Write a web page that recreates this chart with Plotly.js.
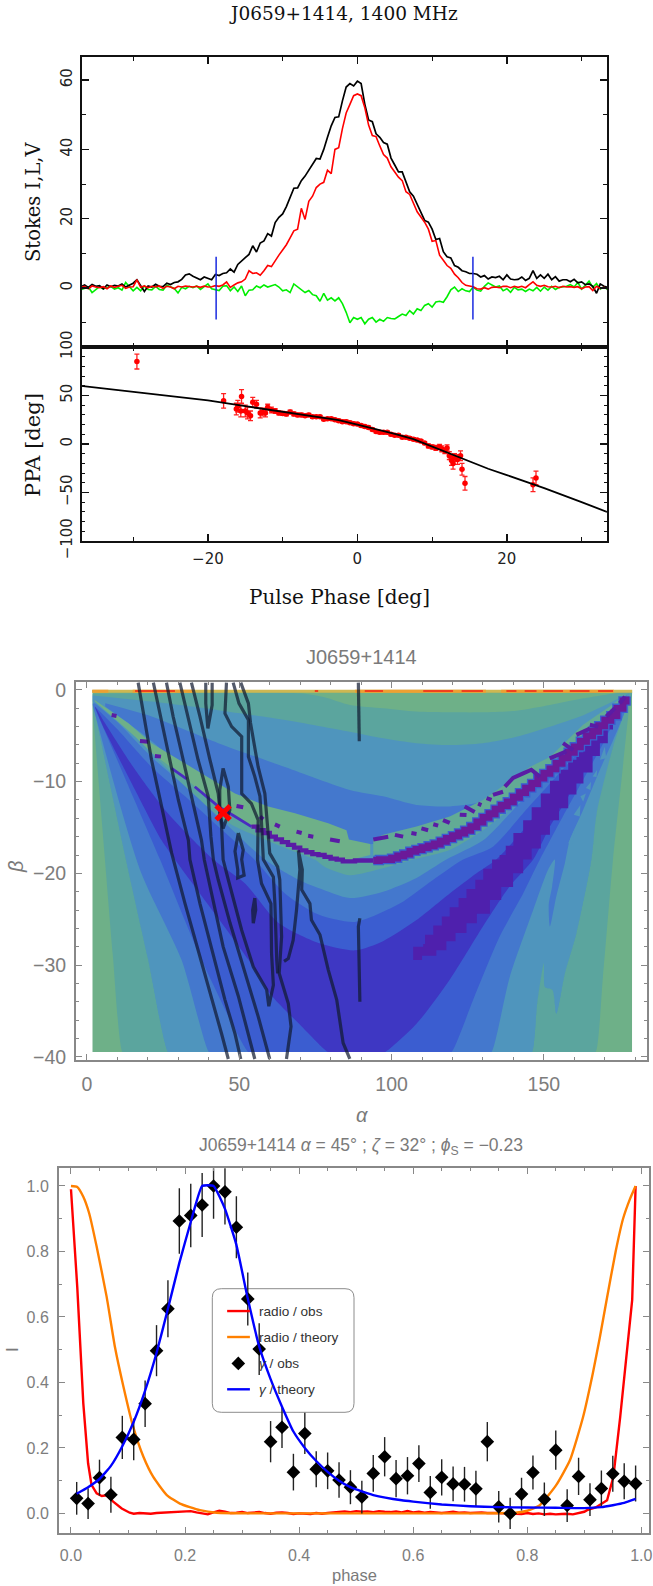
<!DOCTYPE html>
<html>
<head>
<meta charset="utf-8">
<script src="https://cdn.plot.ly/plotly-3.0.1.min.js"></script>
<style>html,body{margin:0;padding:0;background:#fff}#chart{width:653px;height:1586px}</style>
</head>
<body>
<div id="chart"></div>
<script>
// ---------- Panel 1: Stokes profiles (0.5 deg bins from -37 deg) ----------
const stokesI = [.4,.9,.2,1,.5,.7,-.2,.9,.4,.8, .6,1.2,.3,.9,1.4,2.4,.7,-1,.6,.3,
 1.1,.5,.4,1.4,1,1.6,1.8,2.5,3.8,4.1, 3.4,3,2.4,3.2,2.8,2.4,3.9,3.6,4.2,4.4,
 5.5,4.6,6.8,7.9,8.8,9.7,12.2,10.4,13,13.6, 15.7,15,18.9,20.4,21.4,23.5,26,28.8,28.9,31,
 32.3,34,35.5,37.4,37.2,40,43.5,46.8,49.2,49.4, 54,58,59,58.3,59.7,59,53,48.5,48,44.5,
 43.5,42,41.5,37.5,35.5,33.5,33.5,30.5,27.8,26.5, 24,22,19.5,19,17,14,14.3,10.5,9,8.7,
 6.5,6,5,4.7,4.2,4.2,4,3.2,3.6,2.6, 3.2,3,3.4,2.4,3.8,2.6,2.4,2.5,3.2,2.2,
 2.8,5,2.8,3.8,2.8,4,2.4,3.3,2,2.4, 2.4,1.8,2.5,1.5,1.8,1,1.2,.5,-1.5,1.2,.5,.2];
const stokesL = [.2,.5,-.2,.6,.3,.1,.4,-.2,.6,.2, .5,.8,-.1,.3,.4,2.4,.2,.6,.1,.5,
 .3,.6,-.1,.5,.3,-.2,.5,.3,.6,.4, .3,.5,.2,.6,.3,.4,.7,.5,.9,1.8,
 .2,.9,1.5,1.8,2.6,5,4.2,4.4,3.7,5, 6.5,6.2,8,9.5,11,12.5,14.5,16.5,17,23,
 19.8,25,26.5,29,30,30.5,34,33,40,40.5, 46,50.5,53,55.5,56,55.5,52,47,44,43.7,
 41,38.5,37.5,35,33.5,32,31,27.8,27,24.5, 22,20.5,19,17,13.5,13.7,9.5,8,6.5,5.7,
 4,3,1.6,.8,.6,.4,-.2,-.3,.1,-.3, .2,.3,.1,.5,.5,.1,.5,.2,.5,.1,
 1,1.8,.8,.5,.8,.4,.3,.5,.1,.5, .3,.4,.2,.4,-.2,.3,.4,-.7,.5,-.1,.2,-.2];
const stokesV = [-.5,-.2,.3,-1.3,-.5,.4,-.2,.2,.5,-.3, .1,-.6,1.6,.4,-.8,.2,-.8,.6,-.4,-.5,
 .5,-.4,-.6,.8,.3,-.1,-1.4,.2,-.2,.5, .1,.6,-.4,.3,1.2,-.2,-.4,-.7,.5,.7,
 -.8,.3,-1,.6,-2.2,-.6,-.5,.6,.1,.9, .3,.7,1,.3,-.8,-.5,-1.3,1.2,.3,-.4,
 -1.3,-.7,-1.9,-2.2,-3.8,-1.5,-3.5,-2.8,-3.7,-2.8, -4.5,-7,-10,-8.5,-9,-8.5,-10.3,-9,-8.5,-9.8,
 -9,-9.6,-8.5,-8.8,-8.9,-8.2,-7.5,-7.9,-6.5,-7.5, -6,-6.5,-5,-4.5,-5.5,-4,-3.8,-4.1,-2.5,-.5,
 .3,-1,-.2,-.8,-1,.3,-.6,-.9,.5,1.5, 1,.3,.6,-.8,-.2,-1.2,.2,-.5,-.3,-1,
 -.3,-.8,.2,-.9,.3,-.6,.5,-.4,.2,.3, .5,1,.3,1.6,-.3,.8,2,.2,1.3,-.3,.4,-.5];
const edgeMarkX = [-18.9,-18.9,null,15.46,15.46];
const edgeMarkY = [9,-9.1,null,9,-9.1];

// ---------- Panel 1b: position angle ----------
const rvmX = [-37,-30,-25,-20,-15,-10,-5,-2.5,0,2.5,5,7.5,10,12.5,15,17.5,20,25,30,33.4];
const rvmY = [60,54,49.7,45,39,33.5,28,24.5,20,15.5,10.5,5,-2.5,-10,-18,-25.5,-32,-45.5,-60,-70];
const ppaX = [-29.5,-17.9,-16.2,-16,-15.6,-15.5,-15,-14.7,-14.3,-14,-13.5,-13,-12.7,-12.3,-12,-11.5,-11,-10.5,-10,-9.5,-9,-8.5,-8,-7.5,-7,-6.5,-6,-5.5,-5,-4.5,-4,-3.5,-3,-2.5,-2,-1.5,-1,-.5,0,.5,1,1.5,2,2.5,3,3.5,4,4.5,5,5.5,6,6.5,7,7.5,8,8.5,9,9.5,10,10.5,11,11.3,11.7,12,12.3,12.6,12.8,13,13.4,13.8,14,14.4,23.5,23.9];
const ppaY = [85,44.5,36,39,34,49,34,32,29,43,41,32,33,32,38,35,34,32,31.5,31,33,31,30,30,29,30,28,28,28,25.5,26,26,25,24,23,23,22,21,20.5,19,18,17,15,13,12,12,12,10,9,9,7,7,6,5,4,3,1,-2,-3,-4,-3,-5,-7,-4,-12,-17,-20,-14,-16,-12,-26,-40.5,-42,-35];
const ppaErr = [7.7,7.5,6,6,6,7,6,6,5,5,4,5,4,4,3,3,2.5,2,2,2,2,2,1.8,1.8,1.5,1.5,1.5,1.5,1.5,1.5,1.5,1.5,1.5,1.5,1.5,1.5,1.5,1.5,1.5,1.5,1.5,1.5,1.5,1.5,1.5,1.5,1.5,1.5,1.5,1.5,1.5,1.5,1.5,1.5,1.5,1.5,1.5,2,2,2.5,2.5,3,3,3,4,5,6,4,5,5,6,7,7,7];

// ---------- Panel 2: chi-square map, filled bands (alpha, beta) ----------
const bandColors = {green:'#6eb088',teal:'#5ba59e',blue:'#4f95bd',blue2:'#4478cd',blue3:'#3b5dd0',indigo:'#3e37c3',violet:'#4f20ad',purple:'#6b1a99',ridge:'#62ab95'};
const mapA = [1.75,179,179,1.75];
const mapB = [0,0,-39.5,-39.5];
const maskA = [[-3.6,1.75,1.75,-3.6],[179,183.7,183.7,179],[-3.6,183.7,183.7,-3.6],[-3.6,183.7,183.7,-3.6]];
const maskB = [[.87,.87,-40.36,-40.36],[.87,.87,-40.36,-40.36],[-39.5,-39.5,-40.36,-40.36],[.87,.87,0,0]];
const tealA = [1.75,30,70,78,86.3,97.2,108,119,130,141,152,163,174.8,179,178.2,175.5,172.7,169.4,167,166,12.7,11.7,8.5,5.9,1.75];
const tealB = [-.4,-.3,-.36,-.8,-1.64,-2,-2.36,-2.44,-2.44,-2.26,-1.64,-.91,-.29,-.2,-1.5,-9.8,-18.5,-31.3,-39.5,-39.5,-39.5,-39.5,-29,-18.5,-1.5];
const blueTopA = [1.75,21.2,43,65,86.3,97.2,108,119,130,141,152,163,174.8,178];
const blueTopB = [-.6,-1.27,-2.2,-3.27,-4.55,-5.27,-5.8,-6,-5.8,-5.1,-4,-2.75,-.9,-.4];
const blueWedgeA = [177.7,172.7,167.3,165.6,160.7,156.9,154.1,152.8,150.4,150,147.8,146.1,145,27.7,26.7,20.1,12.8,1.75];
const blueWedgeB = [-1.1,-6.2,-13.5,-18.5,-26.5,-30.9,-35.3,-32.7,-32.4,-29.8,-34.2,-39.5,-39.5,-39.5,-39.5,-29.4,-18.5,-1];
const upperA = [6,21.2,43.1,65,86.3,97.2,108.2,119.1,130,137.7,133,120,100,84,60,40,21,6];
const upperB = [-1.46,-2.9,-5.8,-8.4,-10.9,-11.6,-12.55,-12.7,-12.2,-10.9,-12.5,-15,-16.5,-17,-15,-11,-5.5,-1.8];
const ridgeLeftA = [2.5,13.6,21.2,32.2,48.6,59.5,68.3,79.2,85.2,86,93,93,86.3,76,65,59,54,48.6,43.1,35.4,27.8,21.2,10.3,2.6];
const ridgeLeftB = [-1.1,-3.64,-5.8,-8,-11.3,-12.7,-13.45,-14.55,-15.3,-16.3,-16.8,-18,-18.55,-18,-16.7,-15.8,-14.9,-13.8,-12.7,-10.55,-8.55,-6.9,-4,-1.6];
const ridgeRightA = [94,97.2,108.2,119.1,130,137.7,145.4,152,162.9,171.6,176.6,175.5,171.6,164,154.1,146.5,138.8,130,122.4,113.7,106,100.5,94];
const ridgeRightB = [-16.3,-15.8,-14.9,-13.8,-12,-10.2,-8.4,-7.3,-3.8,-1.8,-.55,-1.45,-2.9,-5.1,-8,-10,-12,-13.8,-15.6,-16.9,-17.6,-18.35,-18.5];
const strandA = [2.6,10.3,21.2,27.8,32.7,35.4,43.1,48.6,54,59,65,76,84.7,86.3,100.5,106,113.7,122.4,130,138.8,146.5,154.1,164,171.6,175.5,177.1];
const strandB = [-1.6,-4,-6.9,-8.55,-9.7,-10.55,-12.7,-13.8,-14.9,-15.8,-16.7,-18,-18.7,-18.55,-18.35,-17.6,-16.9,-15.6,-13.8,-12,-10,-8,-5.1,-2.9,-1.45,-.7];
const thinStrandA = [27.8,32.7,null,35.4,43.1,48.6,54];
const thinStrandB = [-8.55,-9.7,null,-10.55,-12.7,-13.8,-14.9];
const stepStrandA = [54,56,58,60,62,64,66,68,70,72,74,76,78,80,82,84,86,88,90,92,94,96,98,100,102,104,106,108,110,112,114,116,118,120,122,124,126,128,130,132,134,136,138,140,142,144,146,148,150,152,154,156,158,160,162,164,166,168,170,172,174,176,177];
const stepStrandB = [-14.9,-15.3,-15.6,-16,-16.3,-16.6,-16.9,-17.2,-17.5,-17.7,-17.9,-18,-18.2,-18.4,-18.5,-18.7,-18.7,-18.6,-18.6,-18.6,-18.6,-18.5,-18.5,-18.35,-18.1,-17.9,-17.6,-17.4,-17.2,-17,-16.8,-16.5,-16.2,-15.9,-15.6,-15.3,-14.9,-14.4,-13.9,-13.5,-13,-12.6,-12.2,-11.7,-11.2,-10.7,-10.2,-9.6,-9.1,-8.6,-8,-7.4,-6.8,-6.2,-5.6,-5,-4.5,-3.9,-3.3,-2.8,-2,-1.2,-.7];
const blueLowTopA = [5.9,15.8,26.7,37.6,48.6,56.2,67.2,74.8,78.1,86.3,97.2,107,119.1,130,141,152,162.9,173.8,177.7];
const blueLowTopB = [-2.2,-5.1,-8.7,-12.4,-14.9,-16,-17.5,-18.5,-19.3,-20.2,-19.45,-18.5,-17.45,-15.3,-12.4,-9.45,-5.8,-1.8,-.55];
const blue2A = [2.6,10.3,21.2,32.2,45.3,58.4,69.4,76,86.3,97.2,108.2,118,130.1,141,154.1,166.2,176,178,176,172.7,168.4,162.9,158.5,156.9,154.1,152,151.6,152.7,153.6,151.4,146.5,138.8,132.8,131.8,41.1,40.1,31,17.4,1.75];
const blue2B = [-1.45,-3.6,-7.3,-10.5,-14.5,-18.5,-20.7,-21.6,-22.7,-22,-20.5,-18.5,-16.4,-12.7,-8.4,-4.4,-1.1,-.7,-2.9,-5.5,-8.7,-13.1,-16.4,-18.9,-22.5,-25.8,-23.4,-21.45,-18.5,-19.6,-24,-31.3,-39.5,-39.5,-39.5,-39.5,-29.4,-19.6,-1.5];
const teethA = [158,160.2,159.4,null,159.8,162,161.8,null,162,163.8,162.9,null,163.8,165.5,165.3,null,166,167.5,167.3,null,168.4,170,170.5];
const teethB = [-16.73,-15.1,-16.8,null,-13.6,-12.55,-13.8,null,-11.6,-11.3,-12.2,null,-10.7,-10,-10.9,null,-9.45,-8.7,-9.5,null,-7.6,-6.2,-7.45];
const blue3A = [2.6,10.3,21.2,32.2,43.1,55.1,65,76,88,102.7,113.7,123.5,133.3,143.2,154.1,162.9,172.7,177.1,173.8,169.5,162.9,157.4,148.7,143.2,135.5,126.8,119.7,118.7,54,53,37.6,24,13,2.6];
const blue3B = [-1.8,-4.4,-8.4,-11.6,-14.9,-18.55,-22.2,-24.5,-25.3,-23.3,-20.7,-18.5,-17.1,-13.45,-9.45,-6.2,-2.2,-.7,-2.9,-5.8,-9.8,-13.1,-18.5,-22.2,-26.9,-33.8,-39.5,-39.5,-39.5,-39.5,-29.4,-18.5,-10,-2];
const indigoA = [2.6,5.9,15.8,26.7,41.5,51.9,62.8,76,88,97.2,108.2,119.1,127.9,134.4,143.2,152,160.7,169.5,177.1,173.8,168.4,162.9,157.4,152,146.5,138.8,130,119.1,108.2,97.8,96.8,80.2,79.2,70.5,60,53,30,24.5,15.8,5.9,2.6];
const indigoB = [-1.8,-3.6,-8.7,-13.5,-18.5,-21.1,-25.4,-27.6,-28.4,-27.4,-25.1,-22.2,-20,-18.5,-15.3,-11.6,-8,-3.6,-.6,-2.55,-5.8,-8.7,-12,-14.9,-18.5,-21.4,-25.8,-31.6,-36.4,-39.5,-39.5,-39.5,-39.5,-36.7,-33.1,-29.4,-19,-16.4,-10.9,-4.4,-1.8];
const violetA = [107.1,110,114.7,118,121,124.6,128,132.3,136,139.9,143.2,146,149,152,155,158,160.7,163,166,168.4,171,172.7,171,168.4,166,163,160.7,158,155,152,149,146,143.2,140,137.5,135.5,133,130.1,127.5,124.6,122,119.1,116.5,113.7,111,110.4,107.1];
const violetB = [-29.45,-29,-28.4,-27.4,-26.5,-25.45,-24.4,-22.9,-21.5,-20,-18.5,-17.3,-15.8,-14.2,-12.9,-11.4,-10.2,-9,-7.2,-5.8,-4.3,-3.3,-3.7,-4.4,-5.4,-6.8,-7.6,-8.7,-9.9,-11.3,-12.8,-14.2,-15.6,-17,-18,-18.5,-19.5,-20.7,-21.7,-22.7,-23.7,-24.7,-25.7,-26.7,-27.7,-28,-29.3];
const blobA = [8.1,9.7,null,17.4,20.1,null,22.3,24.3,null,49.1,51.3,null,56.8,57.9,null,61.7,63.3,null,68.8,70.5,null,72.6,74.3,null,79.8,83,null,94,98.9,null,101.1,103.8,null,106.5,108.2,null,109.8,112,null,113.7,115.3,null,116.9,119.1,null,122.4,124.6,null,124,127.3,null,128.4,129.5,null,131.2,132.8,null,133.3,136.6,null,137.2,139.9,143.2,145.9,148.7,null,151.9,157.4,null,156.3,159.6,null,160.7,165.1,null,165.1,167.8,null,170.5,173.3,null,174.9,176.6];
const blobB = [-2.73,-2.84,null,-5.56,-5.64,null,-7.2,-7.27,null,-12.66,-12.8,null,-13.8,-14.1,null,-14.66,-14.9,null,-15.45,-15.6,null,-15.9,-16,null,-16.3,-16.5,null,-16.3,-16,null,-15.8,-16,null,-15.6,-15.7,null,-15.1,-15.3,null,-14.65,-14.8,null,-14.2,-14.5,null,-13.6,-13.65,null,-12.7,-13.3,null,-12.4,-12.55,null,-11.8,-12,null,-11.45,-11.1,null,-10.55,-9.6,-9.1,-8.7,-9.45,null,-7.45,-6.7,null,-5.8,-6.55,null,-4.9,-4.2,null,-3.8,-4,null,-2.9,-2,null,-1.45,-.73];
const stripeBaseA = [1.75,179];
const stripeBaseB = [-.14,-.14];
const stripeOrangeA = [1.75,7,null,15,35,null,88,131,null,136,173];
const stripeOrangeB = [-.14,-.14,null,-.14,-.14,null,-.14,-.14,null,-.14,-.14];
const stripeRedA = [15.8,28.9,null,74.8,75.9,null,91.2,97.2,null,110.4,120.2,null,123,130,null,137.7,141,null,143.7,147.6,null,149.8,156.3,null,158.5,165,null,167.8,172.7];
const stripeRedB = [-.1,-.1,null,-.1,-.1,null,-.1,-.1,null,-.1,-.1,null,-.1,-.1,null,-.1,-.1,null,-.1,-.1,null,-.1,-.1,null,-.1,-.1,null,-.1,-.1];
const contourA = [
 [16.8,18.5,21.2,24.5,27.8,32.2,36.5,40.9,44.2,46.4],
 [21.8,24,26.7,30,33.3,33.8,37.1,41,45.3,48.6,50.5],
 [26.1,28.3,31.1,34.3,37.6,38.5,41.5,44.7,49.7,55.1],
 [30.5,33.3,36.5,39.8,40.7,41.5,43.1,47,51.3,56.2,60],
 [34.3,37.1,40.4,43.1,44.2,44.7,46.4,50.8,54.6,59,59.7,61.2,60.6,60.4,57.3,56.2,56,56.2,54,50.8,50.8,47.5,45.3,45.8],
 [48,49.9,53,53,55.1,56.8,57.3,57.9,61.2,61.7,62.3,62.6],
 [50.5,53,53.7,56.2,58.4,59.3,60,62.6,63.3,63.9,63.1,66.1,67,65.5],
 [64.7,66.1,67.7,68.8,69.9,69.4,70.7,70.5,73.2,73.7,76.5,79.2,82,84.1,86.3],
 [39,39,39.7,41.1,41.1],
 [44.7,43.6,43.6,44.7,46.9,46.4,44.7],
 [49.7,48.6,49.5,49.5,51.6,50.8,51.3,49.7],
 [55.1,54.4,54.6,55.4,55.1],
 [89.1,89.4],
 [89.6,89.1,89.6]];
const contourB = [
 [.8,-2.55,-7.64,-12.7,-17.8,-23.3,-28.4,-33.4,-37.5,-40.25],
 [.8,-2.55,-6.9,-12,-16.4,-18.5,-23.3,-28.4,-33.8,-37.5,-40.25],
 [.8,-2.9,-6.9,-11.6,-16.4,-18.5,-23.3,-28,-33.4,-40.25],
 [.8,-3.3,-7.64,-11.6,-16,-18.5,-20.7,-25.45,-30.2,-35.6,-40.25],
 [.8,-2.9,-7.64,-11.3,-14.9,-18.5,-20.7,-26.2,-30.2,-32.7,-34.5,-32.2,-28.7,-23.3,-21.1,-19.3,-18.55,-14.2,-12.4,-11.3,-5.1,-4,-2.55,.8],
 [.8,-1.46,-3.27,-7.27,-9.45,-11.6,-14.5,-18.5,-20.4,-23.3,-29.45,-30.9],
 [.8,-1.46,-3.6,-8.4,-11.3,-15.3,-17.8,-19.3,-20.7,-26.9,-30.9,-34.2,-36.7,-40.25],
 [-29.6,-29.3,-27.3,-24,-19.6,-17.5,-19.6,-21.8,-23.3,-25.1,-26.7,-30.5,-33.8,-38.5,-40.25],
 [.8,-1.46,-4.2,-1.64,.8],
 [-8.55,-10.9,-13.45,-15.1,-13.1,-10.55,-8.55],
 [-15.6,-17.6,-19.6,-20.5,-20.2,-18.5,-17.45,-15.6],
 [-22.7,-24,-25.45,-24,-22.7],
 [.8,-5.6],
 [-24.9,-25.8,-34]];
const bestAlpha = [44.7];
const bestBeta = [-13.4];

// ---------- Panel 3: light curves ----------
const radioObsX = [0,.011,.0216,.03,.036,.045,.054,.0625,.074,.089,.103,
 .11,.12,.13,.14,.15,.16,.17,.18,.19,.2,.21,.22,.23,.24,.25,.26,.27,.28,.29,.3,
 .31,.32,.33,.34,.35,.36,.37,.38,.39,.4,.41,.42,.43,.44,.45,.46,.47,.48,.49,.5,
 .51,.52,.53,.54,.55,.56,.57,.58,.59,.6,.61,.62,.63,.64,.65,.66,.67,.68,.69,.7,
 .71,.72,.73,.74,.75,.76,.77,.78,.79,.8,.81,.82,.83,.84,.85,.86,.87,.88,.89,.9,
 .905,.92,.94,.951,.963,.972,.978,.984,.99];
const radioObsY = [.99,.692,.336,.153,.087,.061,.053,.055,.036,.015,.002,
 -.001,.001,0,-.001,.001,.002,.003,.005,.005,.006,.007,.003,-.001,-.003,.003,.008,.005,.001,.002,.004,
 .001,.003,.004,.001,-.001,.002,.003,.001,-.002,0,-.001,-.002,.001,-.001,.001,.003,.005,.006,.004,.007,
 .005,.006,.004,.007,.005,.004,.006,.003,.007,.003,.005,.002,.004,.003,.001,.003,.005,.002,.003,.001,
 .002,.003,.001,.002,.001,0,.002,-.001,-.002,.001,-.002,0,-.003,-.001,-.003,-.002,-.001,-.003,0,.005,
 .01,.018,.04,.112,.295,.448,.57,.652,1];
const radioThX = [0,.011,.0216,.032,.045,.0625,.077,.092,.109,.127,.144,.168,.191,.226,.255,.343,.5,.7,.78,.8,.822,.851,.875,.898,.915,.927,.939,.955,.968,.98,.99];
const radioThY = [1,.997,.967,.916,.815,.662,.509,.387,.265,.173,.112,.056,.03,.01,.002,0,0,0,.002,.008,.025,.087,.163,.295,.428,.535,.65,.8,.9,.96,1];
const gammaX = [.01,.03,.05,.07,.09,.11,.13,.15,.17,.19,.21,.23,.25,.27,.29,.31,.33,.35,.37,.39,.41,.43,.45,.47,.49,.51,.53,.55,.57,.59,.61,.63,.65,.67,.69,.71,.73,.75,.77,.79,.81,.83,.85,.87,.89,.91,.93,.95,.97,.99];
const gammaY = [.046,.03,.109,.057,.232,.226,.335,.497,.625,.893,.91,.942,1,.982,.874,.655,.502,.219,.263,.126,.244,.135,.13,.102,.08,.05,.122,.173,.106,.115,.152,.064,.11,.09,.089,.075,.219,.02,0,.059,.125,.043,.193,.024,.113,.042,.076,.121,.098,.091];
const gammaErr = [.05,.047,.055,.055,.066,.064,.071,.078,.087,.1,.097,.098,.1,.1,.095,.081,.079,.063,.063,.056,.063,.055,.056,.054,.052,.05,.056,.06,.057,.057,.056,.05,.055,.053,.053,.055,.06,.048,.048,.05,.052,.051,.06,.05,.057,.05,.055,.055,.055,.055];
const gammaThX = [.01,.03,.05,.07,.09,.11,.13,.15,.17,.19,.21,.23,.25,.27,.29,.31,.33,.35,.37,.39,.41,.43,.45,.47,.49,.51,.53,.58,.6,.65,.7,.75,.8,.85,.9,.93,.95,.97,.99];
const gammaThY = [.06,.08,.105,.145,.205,.28,.375,.49,.625,.765,.89,1,1,.93,.82,.656,.51,.41,.326,.25,.2,.16,.127,.1,.08,.067,.056,.04,.036,.027,.022,.019,.018,.017,.016,.019,.025,.032,.044];
const legendLabels = ['radio / obs','radio / theory','<i>γ</i> / obs','<i>γ</i> / theory'];
const legendRowY = [.618,.5387,.458,.379];
const legendLineX = [.2738,.3137];
const legendMarkX = [.2934];

// ---------- layout helpers ----------
const W = 653, H = 1586;
const dx = (l,r)=>[l/W,r/W];
const dy = (t,b)=>[1-b/H,1-t/H];
const band = (a,b,color,extra)=>Object.assign({x:a,y:b,xaxis:'x3',yaxis:'y3',mode:'lines',fill:'toself',fillcolor:color,line:{width:0,color:color},hoverinfo:'skip',showlegend:false},extra||{});
const curved = (a,b,color)=>band(a,b,color,{line:{width:0,color:color,shape:'spline',smoothing:.7}});
const seg = (a,b,color,width,extra)=>Object.assign({x:a,y:b,xaxis:'x3',yaxis:'y3',mode:'lines',line:{color:color,width:width},hoverinfo:'skip',showlegend:false,connectgaps:false},extra||{});
const c = bandColors;

const traces = [
 {x0:-37,dx:.5,y:stokesV,mode:'lines',line:{color:'#00ee00',width:1.6},xaxis:'x',yaxis:'y',showlegend:false},
 {x0:-37,dx:.5,y:stokesI,mode:'lines',line:{color:'#000000',width:1.7},xaxis:'x',yaxis:'y',showlegend:false},
 {x0:-37,dx:.5,y:stokesL,mode:'lines',line:{color:'#ff0000',width:1.6},xaxis:'x',yaxis:'y',showlegend:false},
 {x:edgeMarkX,y:edgeMarkY,mode:'lines',line:{color:'#1a2be0',width:1.5},xaxis:'x',yaxis:'y',showlegend:false},
 {x:ppaX,y:ppaY,mode:'markers',marker:{color:'#ff0000',size:5.5},error_y:{type:'data',array:ppaErr,visible:true,color:'#ff2020',thickness:1.3,width:2.5},xaxis:'x2',yaxis:'y2',showlegend:false},
 {x:rvmX,y:rvmY,mode:'lines',line:{color:'#000000',width:1.8},xaxis:'x2',yaxis:'y2',showlegend:false},
 band(mapA,mapB,c.green),
 curved(tealA,tealB,c.teal),
 curved(blueTopA.concat(blueWedgeA),blueTopB.concat(blueWedgeB),c.blue),
 curved(upperA,upperB,c.blue2),
 band(ridgeLeftA,ridgeLeftB,c.green),
 band(ridgeRightA,ridgeRightB,c.ridge),
 band(strandA.concat(blueWedgeA),strandB.concat(blueWedgeB),c.teal),
 curved(blueLowTopA.concat(blueWedgeA),blueLowTopB.concat(blueWedgeB),c.blue),
 curved(blue2A,blue2B,c.blue2),
 band(teethA,teethB,c.blue),
 curved(blue3A,blue3B,c.blue3),
 curved(indigoA,indigoB,c.indigo),
 band(violetA,violetB,c.violet,{line:{width:0,color:c.violet,shape:'hv'}}),
 seg(stepStrandA.slice(20),stepStrandB.slice(20),c.blue3,9.5,{line:{color:c.blue3,width:9.5,shape:'hv'}}),
 seg(thinStrandA,thinStrandB,'#4a2cc0',2.8),
 seg(stepStrandA.slice(0,21),stepStrandB.slice(0,21),'#5a1ca5',4.4,{line:{color:'#5a1ca5',width:4.4,shape:'hv'}}),
 seg(stepStrandA.slice(20),stepStrandB.slice(20),c.purple,6.8,{line:{color:c.purple,width:6.8,shape:'hv'}}),
 seg(blobA,blobB,'#5a1ca5',4),
];
maskA.forEach((a,i)=>traces.push(band(a,maskB[i],'#ffffff')));
traces.push(
 seg(stripeBaseA,stripeBaseB,'#cdb752',3),
 seg(stripeOrangeA,stripeOrangeB,'#eda032',3),
 seg(stripeRedA,stripeRedB,'#f2401c',2)
);
contourA.forEach((a,i)=>{
 traces.push(seg(a,contourB[i],'rgba(16,26,48,0.72)',3.2));
});
traces.push({x:bestAlpha,y:bestBeta,xaxis:'x3',yaxis:'y3',mode:'markers',marker:{symbol:'x-thin',size:14,color:'#ff0000',line:{color:'#ff0000',width:5}},showlegend:false,hoverinfo:'skip'});
traces.push(
 {x:radioObsX,y:radioObsY,xaxis:'x4',yaxis:'y4',mode:'lines',line:{color:'#ff0000',width:2.4},name:'radio / obs',showlegend:false},
 {x:radioThX,y:radioThY,xaxis:'x4',yaxis:'y4',mode:'lines',line:{color:'#ff8000',width:2.4,shape:'spline',smoothing:.5},name:'radio / theory',showlegend:false},
 {x:gammaX,y:gammaY,xaxis:'x4',yaxis:'y4',mode:'markers',marker:{symbol:'diamond',size:10.5,color:'#000000'},error_y:{type:'data',array:gammaErr,visible:true,color:'#222222',thickness:1.4,width:0},name:'γ / obs',showlegend:false},
 {x:gammaThX,y:gammaThY,xaxis:'x4',yaxis:'y4',mode:'lines',line:{color:'#0000ff',width:2.4,shape:'spline',smoothing:.4},name:'γ / theory',showlegend:false},
 {x:legendLineX,y:[legendRowY[0],legendRowY[0]],xaxis:'x4',yaxis:'y4',mode:'lines',line:{color:'#ff0000',width:2.4},showlegend:false,hoverinfo:'skip'},
 {x:legendLineX,y:[legendRowY[1],legendRowY[1]],xaxis:'x4',yaxis:'y4',mode:'lines',line:{color:'#ff8000',width:2.4},showlegend:false,hoverinfo:'skip'},
 {x:legendMarkX,y:[legendRowY[2]],xaxis:'x4',yaxis:'y4',mode:'markers',marker:{symbol:'diamond',size:10.5,color:'#000000'},showlegend:false,hoverinfo:'skip'},
 {x:legendLineX,y:[legendRowY[3],legendRowY[3]],xaxis:'x4',yaxis:'y4',mode:'lines',line:{color:'#0000ff',width:2.4},showlegend:false,hoverinfo:'skip'}
);

const blk = {showline:true,mirror:'ticks',linecolor:'#111',linewidth:1.6,ticks:'inside',tickcolor:'#111',tickwidth:1.4,ticklen:7,zeroline:false,showgrid:false,
 tickfont:{family:'DejaVu Sans',size:15,color:'#222'}};
const gry = (size)=>({showline:true,mirror:'ticks',linecolor:'#888',linewidth:2,ticks:'inside',tickcolor:'#888',tickwidth:1,ticklen:6,zeroline:false,showgrid:false,
 tickfont:{family:'Liberation Sans',size:size,color:'#7d7d7d'}});
const minor = (d,col,len)=>({dtick:d,ticks:'inside',ticklen:len,tickcolor:col,tickwidth:1,showgrid:false});

const ann = (x,y,text,size,font,color,angle,anchor)=>({xref:'paper',yref:'paper',x:x/W,y:1-y/H,text:text,showarrow:false,xanchor:anchor||'center',yanchor:'middle',textangle:angle||0,font:{family:font,size:size,color:color}});
const sans='Liberation Sans', gr='#7a7a7a', serif='DejaVu Serif';

const bx0=212.3,bx1=354,by0=1288.7,by1=1412.3,rr=9;
const px=v=>v/W, py=v=>1-v/H;
const boxPath = `M ${px(bx0+rr)} ${py(by0)} L ${px(bx1-rr)} ${py(by0)} Q ${px(bx1)} ${py(by0)} ${px(bx1)} ${py(by0+rr)} L ${px(bx1)} ${py(by1-rr)} Q ${px(bx1)} ${py(by1)} ${px(bx1-rr)} ${py(by1)} L ${px(bx0+rr)} ${py(by1)} Q ${px(bx0)} ${py(by1)} ${px(bx0)} ${py(by1-rr)} L ${px(bx0)} ${py(by0+rr)} Q ${px(bx0)} ${py(by0)} ${px(bx0+rr)} ${py(by0)} Z`;

const layout = {
 width:W,height:H,margin:{l:0,r:0,t:0,b:0},paper_bgcolor:'#fff',plot_bgcolor:'rgba(0,0,0,0)',showlegend:false,hovermode:false,
 xaxis:Object.assign({},blk,{domain:dx(81.6,607),range:[-36.9,33.4],anchor:'y',dtick:20,tick0:0,showticklabels:false,minor:minor(10,'#111',4)}),
 yaxis:Object.assign({},blk,{domain:dy(56.5,347),range:[-17,66.8],anchor:'x',dtick:20,tick0:0,tickangle:-90,ticklabelstandoff:2,minor:minor(10,'#111',4)}),
 xaxis2:Object.assign({},blk,{domain:dx(81.6,607),range:[-36.9,33.4],anchor:'y2',dtick:20,tick0:0,ticklabelstandoff:3,minor:minor(10,'#111',4)}),
 yaxis2:Object.assign({},blk,{domain:dy(347,541),range:[-100,100],anchor:'x2',dtick:50,tick0:0,tickangle:-90,ticklabelstandoff:2,minor:minor(10,'#111',3)}),
 xaxis3:Object.assign({},gry(19.5),{domain:dx(76,646.5),range:[-3.6,183.7],anchor:'y3',dtick:50,tick0:0,ticklabelstandoff:6,minor:minor(10,'#888',3)}),
 yaxis3:Object.assign({},gry(19.5),{domain:dy(682,1060),range:[-40.36,.87],anchor:'x3',dtick:10,tick0:0,ticklabelstandoff:4,minor:minor(2,'#888',3)}),
 xaxis4:Object.assign({},gry(16),{domain:dx(59,649.3),range:[-.021,1.014],anchor:'y4',dtick:.2,tick0:0,tickformat:'.1f',ticklabelstandoff:7,minor:minor(.05,'#888',3)}),
 yaxis4:Object.assign({},gry(16),{domain:dy(1168.3,1532.7),range:[-.059,1.054],anchor:'x4',dtick:.2,tick0:0,tickformat:'.1f',ticklabelstandoff:5,minor:minor(.1,'#888',3)}),
 shapes:[{type:'path',xref:'paper',yref:'paper',path:boxPath,line:{color:'#8c8c8c',width:1},fillcolor:'#ffffff',layer:'below'}],
 annotations:[
  ann(343.7,13,'J0659+1414, 1400 MHz',18.5,serif,'#111'),
  ann(33,202,'Stokes I,L,V',19.5,serif,'#111',-90),
  ann(33,445,'PPA [deg]',21,serif,'#111',-90),
  ann(339,597,'Pulse Phase [deg]',20,serif,'#111'),
  ann(361.5,657,'J0659+1414',20,sans,gr),
  ann(361.5,1115,'<i>α</i>',20,sans,gr),
  ann(16,867,'<i>β</i>',20,sans,gr,-90),
  ann(361,1146,'J0659+1414 <i>α</i> = 45° ; <i>ζ</i> = 32° ; <i>ϕ</i><sub>S</sub> = −0.23',17.5,sans,gr),
  ann(354,1575,'phase',16.5,sans,gr),
  ann(12,1350,'I',17,sans,gr,-90),
  ann(257,1311,legendLabels[0],13.6,sans,'#333',0,'left'),
  ann(257,1337,legendLabels[1],13.6,sans,'#333',0,'left'),
  ann(257,1363,legendLabels[2],13.6,sans,'#333',0,'left'),
  ann(257,1389,legendLabels[3],13.6,sans,'#333',0,'left')
 ]
};
Plotly.newPlot('chart',traces,layout,{displayModeBar:false,staticPlot:true});
</script>
</body>
</html>
